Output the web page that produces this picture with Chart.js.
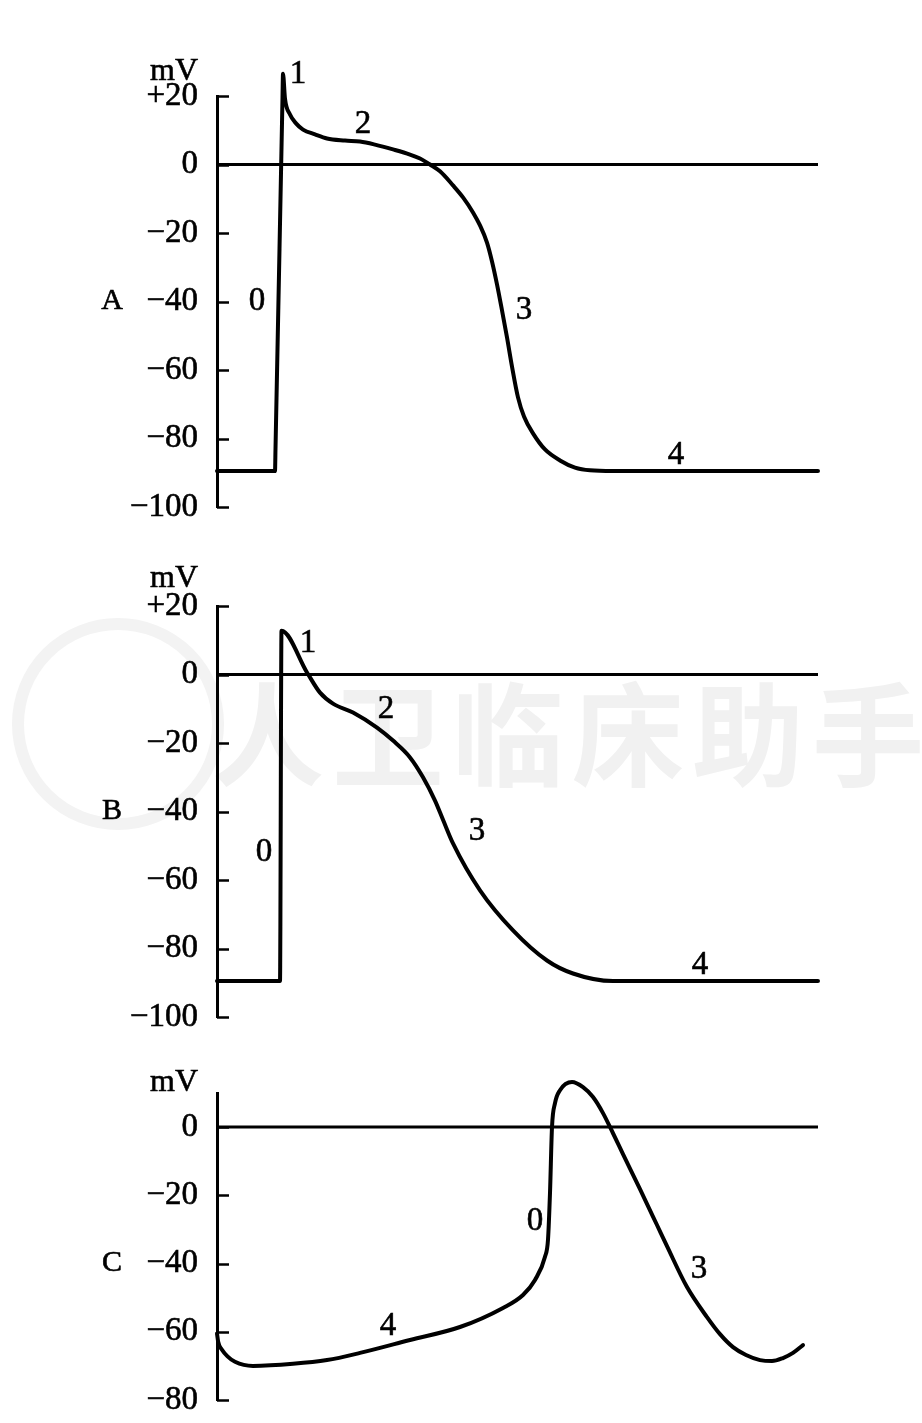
<!DOCTYPE html>
<html>
<head>
<meta charset="utf-8">
<script src="https://cdn.jsdelivr.net/npm/chart.js@4.4.1/dist/chart.umd.min.js"></script>
<style>
body { margin: 0; background: #fff; width: 922px; height: 1423px; position: relative; overflow: hidden; }
canvas { position: absolute; left: 0; }
#wm { position: absolute; left: 212px; top: 648px; font: bold 112px "Noto Sans CJK SC"; color: #f1f1f1; letter-spacing: 8px; white-space: nowrap; }
#ring { position: absolute; left: 12px; top: 618px; width: 188px; height: 188px; border: 12px solid #f3f3f3; border-radius: 50%; }
</style>
</head>
<body>
<div id="ring"></div>
<div id="wm">人卫临床助手</div>
<canvas id="chartA" width="922" height="555" style="top:0"></canvas>
<canvas id="chartB" width="922" height="525" style="top:540px"></canvas>
<canvas id="chartC" width="922" height="408" style="top:1035px"></canvas>
<script>
// time axis: arbitrary units (0 = y axis), membrane potential in mV

// A - ventricular muscle
const timeA = [0, 58, 58.5, 65.5, 66, 68, 73, 79, 86, 98, 110, 128, 143, 158, 176, 193, 203, 213, 223, 236, 246, 256, 263, 270, 275, 280, 285, 290, 295, 301, 307, 316, 328, 343, 358, 373, 396, 601];
const mvA = [-89.5, -89.5, -83, 19.5, 26.5, 19.2, 14.6, 12, 10.2, 8.8, 7.6, 7, 6.7, 5.8, 4.4, 2.9, 1.75, 0, -2, -6.1, -9.6, -14, -17.8, -22.8, -28.3, -35, -42.6, -50.5, -59, -68, -73.6, -78.5, -83.2, -86.4, -88.5, -89.3, -89.5, -89.5];

// B - Purkinje-like
const timeB = [0, 63, 64.5, 90, 103, 116, 136, 160, 176, 193, 206, 218, 226, 236, 263, 296, 330, 356, 396, 601];
const mvB = [-89.5, -89.5, 12.8, 0.6, -5.3, -8.5, -11.1, -15.5, -19.3, -24.2, -30, -36.8, -42.4, -49.3, -63, -74.7, -83.5, -87.3, -89.5, -89.5];

// C - sinoatrial node
const timeC = [0, 1.2, 4.8, 10.5, 18, 36, 76, 110, 143, 193, 243, 286, 306, 318, 328, 331, 333, 335, 338, 343, 355, 366, 376, 386, 396, 406, 423, 440, 450, 470, 490, 503, 516, 529, 543, 555, 566, 576, 586];
const mvC = [-60.5, -63, -65.2, -67.2, -68.8, -70, -69.4, -68.3, -66.2, -62.4, -58.6, -53, -49.2, -44.8, -38, -33, -19.3, 0, 7, 10.8, 13.2, 11.7, 8.8, 4.1, -1.8, -7.9, -18.2, -28.7, -34.9, -46.9, -55.7, -60.7, -64.5, -66.8, -68.3, -68.6, -67.7, -66.2, -63.9];

// tick labels
const ticksAB = [20, 0, -20, -40, -60, -80, -100];
const ticksC = [0, -20, -40, -60, -80];

// phase labels
const phaseA = ['1', '2', '0', '3', '4'];
const phaseAt = [81, 146, 40, 307, 459];
const phaseAv = [26.2, 11.7, -40, -42.6, -85];

const phaseB = ['1', '2', '0', '3', '4'];
const phaseBt = [91, 169, 47, 260, 483];
const phaseBv = [9, -10.2, -52, -45.8, -85];

const phaseC = ['0', '4', '3'];
const phaseCt = [318, 171, 482];
const phaseCv = [-27.6, -58.4, -41.6];

const FONT = 'Liberation Serif';

function fmt(v) {
    if (v > 0) return '+' + v;
    if (v < 0) return '\u2212' + Math.abs(v);
    return '0';
}

function label(ctx, txt, x, y) {
    ctx.strokeText(txt, x, y);
    ctx.fillText(txt, x, y);
}

// draws inward tick marks and the text labels
const extras = {
    id: 'extras',
    afterDraw(chart) {
        const ctx = chart.ctx;
        const xs = chart.scales.x, ys = chart.scales.y;
        const o = chart.options.plugins.extras;
        ctx.save();
        ctx.strokeStyle = '#000';
        ctx.lineWidth = 2.5;
        ys.ticks.forEach(t => {
            const y = Math.round(ys.getPixelForValue(t.value)) + 0.5;
            ctx.beginPath();
            ctx.moveTo(chart.chartArea.left, y);
            ctx.lineTo(chart.chartArea.left + 12, y);
            ctx.stroke();
        });
        ctx.fillStyle = '#000';
        ctx.lineWidth = 0.6;
        ctx.textAlign = 'center';
        ctx.textBaseline = 'middle';
        ctx.font = '33px "' + FONT + '"';
        o.labels.forEach((txt, i) => {
            label(ctx, txt, xs.getPixelForValue(o.lt[i]), ys.getPixelForValue(o.lv[i]));
        });
        ctx.font = '32px "' + FONT + '"';
        label(ctx, 'mV', xs.getPixelForValue(-43), ys.getPixelForValue(o.unitV));
        ctx.font = '30px "' + FONT + '"';
        label(ctx, o.letter, xs.getPixelForValue(-105), ys.getPixelForValue(-40));
        ctx.restore();
    }
};

function makePanel(id, tArr, vArr, yMin, yMax, tickVals, labels, lt, lv, letter, unitV, padTop, padBottom) {
    const curve = tArr.map((t, i) => ({ x: t, y: vArr[i] }));
    new Chart(document.getElementById(id), {
        type: 'scatter',
        data: {
            datasets: [{
                data: [{ x: 0, y: 0 }, { x: 601, y: 0 }],
                showLine: true,
                borderColor: '#000',
                borderWidth: 3,
                pointRadius: 0,
                clip: false
            }, {
                data: curve,
                showLine: true,
                borderColor: '#000',
                borderWidth: 4,
                pointRadius: 0,
                cubicInterpolationMode: 'monotone',
                borderJoinStyle: 'round',
                borderCapStyle: 'round',
                clip: false
            }]
        },
        options: {
            responsive: false,
            animation: false,
            events: [],
            layout: { padding: { left: 0, right: 104, top: padTop, bottom: padBottom } },
            scales: {
                x: { type: 'linear', min: 0, max: 601, display: false },
                y: {
                    min: yMin,
                    max: yMax,
                    afterBuildTicks: s => { s.ticks = tickVals.map(v => ({ value: v })); },
                    afterFit: s => { s.width = 217; },
                    border: { display: true, color: '#000', width: 3 },
                    grid: { display: false, drawTicks: false },
                    ticks: {
                        color: '#000',
                        padding: 19,
                        textStrokeColor: '#000',
                        textStrokeWidth: 0.6,
                        font: { family: FONT, size: 33 },
                        callback: v => fmt(v)
                    }
                }
            },
            plugins: {
                legend: { display: false },
                tooltip: { enabled: false },
                extras: { labels: labels, lt: lt, lv: lv, letter: letter, unitV: unitV }
            }
        },
        plugins: [extras]
    });
}

makePanel('chartA', timeA, mvA, -100, 20, ticksAB, phaseA, phaseAt, phaseAv, 'A', 27, 96, 48);
makePanel('chartB', timeB, mvB, -100, 20, ticksAB, phaseB, phaseBt, phaseBv, 'B', 28, 66, 48);
makePanel('chartC', timeC, mvC, -80, 10, ticksC, phaseC, phaseCt, phaseCv, 'C', 13, 58, 43);
</script>
</body>
</html>
